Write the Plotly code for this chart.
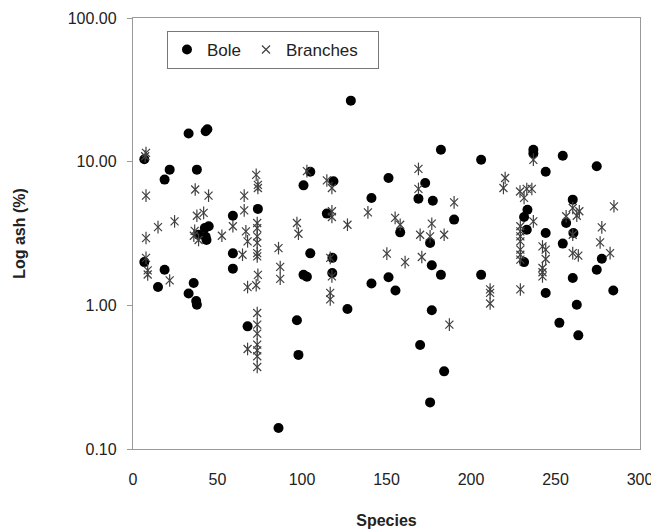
import plotly.graph_objects as go

# Bole (species index, ash %)
bole_x = [32.9, 43.0, 44.0, 6.7, 21.7, 18.7, 37.8, 59.1, 42.5, 44.8, 43.0, 43.5, 38.8,
          59.1, 59.1, 6.7, 18.7, 14.8, 35.9, 32.9, 37.4, 37.8,
          73.9, 100.9, 104.9, 104.9, 100.9, 102.9, 67.8, 97.0, 97.9, 114.7, 118.6,
          118.0, 117.9, 86.1,
          128.9, 151.2, 141.1, 172.9, 168.9, 177.4, 158.1, 175.8, 176.8, 141.1, 151.2,
          155.3, 126.9, 176.8, 169.9, 175.8,
          182.2, 206.0, 236.9, 236.9, 190.0, 182.2, 206.0, 184.1, 233.4, 231.4, 233.0, 231.4,
          254.3, 274.4, 244.2, 260.2, 256.3, 260.6, 244.2, 254.3, 277.4, 274.4, 260.2,
          284.2, 244.2, 262.6, 252.3, 263.5]
bole_y = [15.7, 16.3, 16.8, 10.4, 8.8, 7.5, 8.8, 4.2, 3.45, 3.55, 3.0, 2.85, 3.1,
          2.3, 1.8, 2.0, 1.77, 1.34, 1.43, 1.21, 1.07, 1.01,
          4.69, 6.84, 8.5, 2.3, 1.63, 1.58, 0.714, 0.787, 0.452, 4.35, 7.3,
          2.14, 1.68, 0.14,
          26.6, 7.7, 5.59, 7.1, 5.53, 5.35, 3.22, 2.72, 1.9, 1.42, 1.57,
          1.27, 0.944, 0.923, 0.53, 0.211,
          12.1, 10.3, 12.1, 11.4, 3.95, 1.63, 1.63, 0.347, 4.63, 4.12, 3.36, 2.0,
          11.0, 9.3, 8.5, 5.44, 3.74, 3.19, 3.19, 2.69, 2.11, 1.77, 1.55,
          1.27, 1.22, 1.01, 0.755, 0.618]

# Branches (species index, ash %)
br_x = [7.7, 7.2, 7.7, 36.8, 44.7, 41.8, 37.8, 24.6, 14.8, 7.7, 36.5, 36.0, 38.8, 52.6,
        59.1, 7.7, 8.7, 8.7, 21.7,
        102.9, 72.9, 73.9, 73.9, 65.8, 65.8, 66.8, 73.5, 73.5, 73.5, 73.5, 73.5, 73.5,
        67.8, 64.8, 86.1, 87.1, 87.1, 73.9, 72.9, 67.8, 73.5, 73.5, 73.5, 67.8,
        73.5, 73.5, 73.5, 73.5, 97.0, 97.9, 114.7, 117.7, 117.7, 117.7, 116.7, 117.7,
        116.7, 116.7,
        168.9, 168.9, 139.0, 126.9, 155.1, 158.1, 169.9, 175.8, 176.8, 150.2, 161.0, 170.9,
        190.0, 184.1, 211.3, 211.3, 211.3, 187.2, 220.2, 219.2, 229.0, 233.0, 236.0, 231.4,
        236.9, 236.9, 229.2, 229.2, 229.2, 229.2, 229.2, 229.2, 229.2, 229.2,
        284.6, 260.2, 262.6, 264.1, 256.3, 260.2, 277.4, 276.4, 282.3, 260.2, 263.5,
        242.3, 244.2, 244.2, 242.3, 242.3, 242.3]
br_y = [11.5, 10.9, 5.8, 6.4, 5.8, 4.4, 4.2, 3.84, 3.5, 2.94, 3.3, 3.05, 2.85, 3.05,
        3.55, 2.14, 1.75, 1.64, 1.49,
        8.6, 8.1, 6.9, 6.56, 5.8, 4.58, 3.27, 3.74, 3.45, 3.02, 2.72, 2.31, 2.19,
        2.79, 2.25, 2.5, 1.85, 1.53, 1.63, 1.38, 1.34, 0.885, 0.734, 0.636, 0.497,
        0.533, 0.486, 0.442, 0.372, 3.74, 3.15, 7.4, 6.56, 4.52, 4.12, 2.14, 1.59,
        1.22, 1.1,
        8.9, 6.46, 4.44, 3.64, 4.06, 3.64, 3.1, 3.02, 3.7, 2.29, 2.0, 2.17,
        5.21, 3.1, 1.29, 1.22, 1.03, 0.734, 7.7, 6.56, 6.2, 6.46, 6.46, 5.6,
        10.3, 3.84, 3.55, 3.27, 3.02, 2.79, 2.44, 2.25, 2.08, 1.29,
        4.89, 4.76, 4.2, 4.52, 4.17, 3.1, 3.49, 2.74, 2.31, 2.31, 2.22,
        2.57, 2.44, 2.1, 1.82, 1.7, 1.59]

y_tickvals = [0.1, 1, 10, 100]
y_ticktext = ["0.10", "1.00", "10.00", "100.00"]
x_tickvals = [0, 50, 100, 150, 200, 250, 300]

FONT = "Liberation Sans, Arial, sans-serif"
star_color = "#404040"

fig = go.Figure()
fig.add_trace(go.Scatter(
    x=bole_x, y=bole_y, mode="markers", name="Bole",
    marker=dict(symbol="circle", size=10, color="black", line=dict(width=0)),
))
fig.add_trace(go.Scatter(
    x=br_x, y=br_y, mode="markers", name="Branches&nbsp;&nbsp;&nbsp;", legendgroup="br",
    marker=dict(symbol="x-thin-open", size=8, color=star_color,
                line=dict(width=1.2, color=star_color)),
))
fig.add_trace(go.Scatter(
    x=br_x, y=br_y, mode="markers", name="Branches", legendgroup="br",
    showlegend=False,
    marker=dict(symbol="line-ns-open", size=9, color=star_color,
                line=dict(width=1.2, color=star_color)),
))

# page body has an 8px default margin, so the figure is 8px smaller than the window
fig.update_layout(
    width=651, height=521,
    margin=dict(l=125, r=19, t=10, b=80),
    paper_bgcolor="white", plot_bgcolor="white",
    font=dict(family=FONT, size=15, color="#222"),
    showlegend=True,
    legend=dict(
        orientation="h", x=0.067, y=0.97, xanchor="left", yanchor="top",
        bordercolor="#777", borderwidth=1, bgcolor="white",
        font=dict(size=17, family=FONT, color="#222"),
        itemwidth=30, tracegroupgap=0,
    ),
    xaxis=dict(
        range=[0, 300], tickvals=x_tickvals, automargin=False,
        showgrid=False, zeroline=False,
        showline=True, linecolor="#999", linewidth=1.3, mirror=True,
        ticks="", ticklabelstandoff=16,
        tickfont=dict(size=16, family=FONT, color="#222"),
        title=dict(text="<b>Species</b>", font=dict(size=16, family=FONT, color="#222"),
                   standoff=30),
    ),
    yaxis=dict(
        type="log", range=[-1, 2], tickvals=y_tickvals, ticktext=y_ticktext,
        automargin=False,
        showgrid=False, zeroline=False,
        showline=True, linecolor="#999", linewidth=1.3, mirror=True,
        ticks="outside", ticklen=5, tickcolor="#999",
        ticklabelstandoff=7,
        tickfont=dict(size=16, family=FONT, color="#222"),
        title=dict(text="<b>Log ash (%)</b>", font=dict(size=16, family=FONT, color="#222"),
                   standoff=38),
    ),
)

fig.write_html("out.html")
